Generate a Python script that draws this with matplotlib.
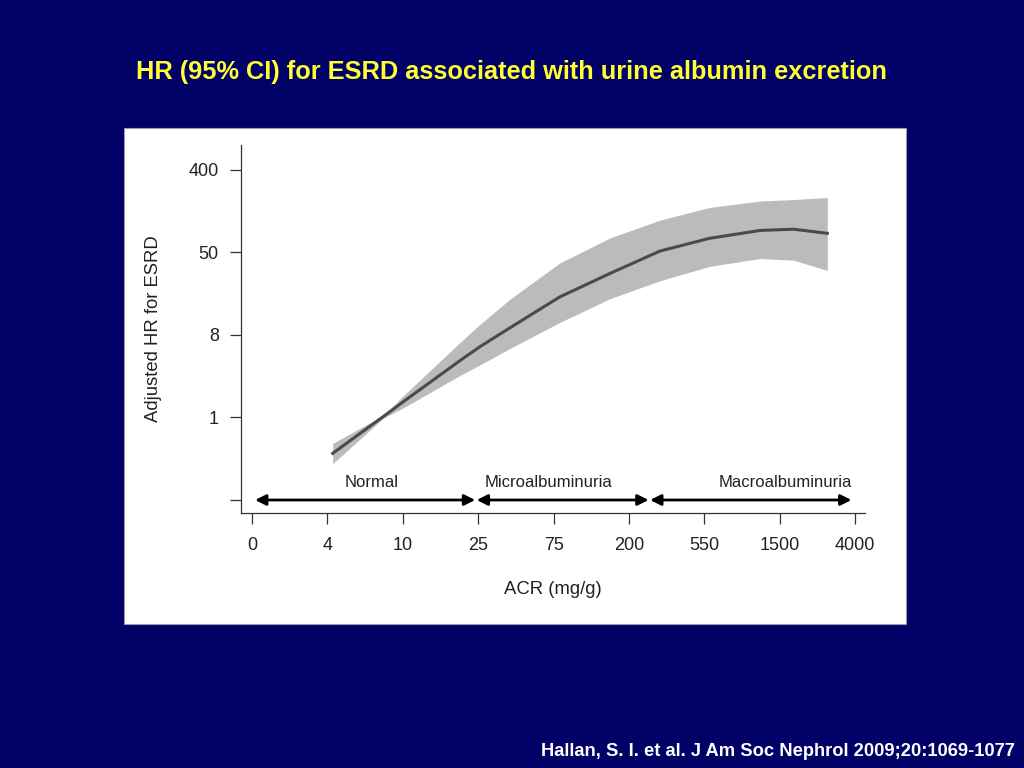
import numpy as np
import matplotlib.pyplot as plt
from matplotlib.patches import Rectangle

plt.rcParams['font.family'] = ['Liberation Sans', 'DejaVu Sans']

# x axis categories (equally spaced ACR ticks)
acr_labels = ['0', '4', '10', '25', '75', '200', '550', '1500', '4000']
# curve, x in tick-index units, HR values
acr_pos = [1.07, 1.74, 2.02, 2.76, 3.02, 3.42, 4.08, 4.75, 5.41, 6.07, 6.74, 7.18, 7.63]
hr_mid = [0.419, 1.02, 1.49, 3.97, 5.53, 8.76, 18.5, 32.8, 56.3, 76.7, 92.8, 95.6, 86.5]
hr_upper = [0.533, 1.05, 1.73, 6.17, 9.49, 17.5, 42.1, 77.5, 119, 162, 189, 196, 206]
hr_lower = [0.326, 0.98, 1.28, 2.77, 3.56, 5.31, 9.97, 17.8, 27.4, 38.9, 47.0, 45.2, 35.2]
hr_tick_labels = ['', '1', '8', '50', '400']

groups = ['Normal', 'Microalbuminuria', 'Macroalbuminuria']
group_start = [0.04, 2.98, 5.28]
group_end = [2.96, 5.26, 7.95]
group_label_x = [1.58, 3.93, 7.07]

navy = '#000066'
fig = plt.figure(figsize=(10.24, 7.68), dpi=100, facecolor=navy)

# white panel behind the plot
fig.patches.append(Rectangle((124 / 1024, 1 - 624 / 768), 782 / 1024, 496 / 768,
                             transform=fig.transFigure, facecolor='white',
                             edgecolor='#9999aa', lw=0.8, zorder=-1))

fig.text(0.5, 1 - 72 / 768, 'HR (95% CI) for ESRD associated with urine albumin excretion',
         color='#ffff33', fontsize=18.3, fontweight='bold', ha='center', va='center')
fig.text(1015 / 1024, 1 - 752 / 768, 'Hallan, S. I. et al. J Am Soc Nephrol 2009;20:1069-1077',
         color='white', fontsize=13.2, fontweight='bold', ha='right', va='center')

ax = fig.add_axes([241 / 1024, 1 - 513 / 768, 624 / 1024, 368 / 768])
ax.set_zorder(2)
ax.set_facecolor('none')

ax.fill_between(acr_pos, hr_lower, hr_upper, color='#bbbbbb', lw=0)
ax.plot(acr_pos, hr_mid, color='#4a4a4a', lw=2.2)

ax.set_yscale('log')
ax.set_xlim(-0.146, 8.13)
ax.set_ylim(np.exp(-2.315), np.exp(6.6))
ax.set_xticks(range(len(acr_labels)))
ax.set_xticklabels(acr_labels)
ax.set_yticks(np.exp([-2, 0, 2, 4, 6]))
ax.set_yticklabels(hr_tick_labels)
ax.minorticks_off()

ax.spines['top'].set_visible(False)
ax.spines['right'].set_visible(False)
for s in ['left', 'bottom']:
    ax.spines[s].set_color('#333333')
    ax.spines[s].set_linewidth(0.9)
ax.tick_params(axis='both', length=8, width=0.9, color='#333333', labelsize=13, labelcolor='#222222')
ax.tick_params(axis='x', pad=9)
ax.tick_params(axis='y', pad=8)

ax.set_ylabel('Adjusted HR for ESRD', fontsize=13.3, color='#222222', labelpad=19)
ax.set_xlabel('ACR (mg/g)', fontsize=13.3, color='#222222', labelpad=19.5)

y_arrow = np.exp(-2)
for name, x0, x1, lx in zip(groups, group_start, group_end, group_label_x):
    ax.annotate('', xy=(x1, y_arrow), xytext=(x0, y_arrow),
                arrowprops=dict(arrowstyle='<|-|>', color='black', lw=2, mutation_scale=16,
                                shrinkA=0, shrinkB=0))
    ax.text(lx, np.exp(-1.58), name, fontsize=12, color='#222222', ha='center', va='center')

fig.savefig('out.png', dpi=100, facecolor=navy)
